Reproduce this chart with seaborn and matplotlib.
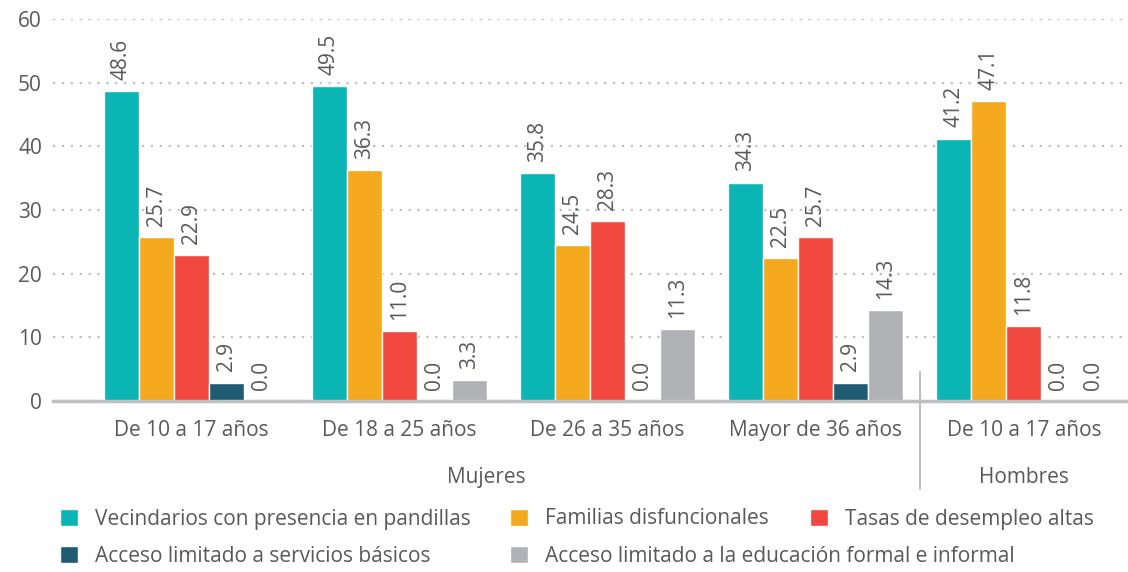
import numpy as np
import pandas as pd
import matplotlib
matplotlib.use('Agg')
import matplotlib.pyplot as plt
import matplotlib.transforms as mtransforms
import seaborn as sns

# data
groups = ['M 10-17', 'M 18-25', 'M 26-35', 'M 36+', 'H 10-17']
tick_labels = ['De 10 a 17 años', 'De 18 a 25 años', 'De 26 a 35 años',
               'Mayor de 36 años', 'De 10 a 17 años']
series = ['Vecindarios con presencia en pandillas',
          'Familias disfuncionales',
          'Tasas de desempleo altas',
          'Acceso limitado a servicios básicos',
          'Acceso limitado a la educación formal e informal']
vecindarios = [48.6, 49.5, 35.8, 34.3, 41.2]
familias = [25.7, 36.3, 24.5, 22.5, 47.1]
desempleo = [22.9, 11.0, 28.3, 25.7, 11.8]
servicios = [2.9, 0.0, 0.0, 2.9, 0.0]
educacion = [0.0, 3.3, 11.3, 14.3, 0.0]
colors = ['#0BB5B3', '#F4A81D', '#F0483E', '#1F5C74', '#B1B2B6']

rows = []
for name, vals in zip(series, [vecindarios, familias, desempleo, servicios, educacion]):
    for g, v in zip(groups, vals):
        rows.append({'grupo': g, 'serie': name, 'valor': v})
df = pd.DataFrame(rows)

sns.set_style('white')
plt.rcParams['font.family'] = ['Open Sans', 'DejaVu Sans']
txt = '#595959'
grid_c = '#BFBFBF'
fs = 15

fig = plt.figure(figsize=(11.28, 5.72), dpi=100)
ax = fig.add_axes([0.047, 0.299, 0.953, 0.668])

sns.barplot(data=df, x='grupo', y='valor', hue='serie', order=groups,
            hue_order=series, palette=colors, saturation=1, width=0.84,
            edgecolor='white', linewidth=1, ax=ax)
handles, labels = ax.get_legend_handles_labels()
ax.get_legend().remove()

for cont in ax.containers:
    ax.bar_label(cont, fmt='%.1f', rotation=90, padding=8, color=txt, fontsize=fs)

ax.set_xlim(-0.663, 4.5)
ax.set_ylim(0, 60)
ax.set_yticks(range(0, 61, 10))
ax.set_xticks(range(len(groups)))
ax.set_xticklabels(tick_labels)
ax.set_xlabel('')
ax.set_ylabel('')
ax.tick_params(axis='both', length=0, labelsize=fs, labelcolor=txt)
ax.tick_params(axis='y', pad=8)
ax.tick_params(axis='x', pad=14)

ax.yaxis.grid(True, linestyle=(0, (1, 3)), color=grid_c, linewidth=1.6)
ax.set_axisbelow(True)
for s in ['left', 'right', 'top']:
    ax.spines[s].set_visible(False)
ax.spines['bottom'].set_color(grid_c)
ax.spines['bottom'].set_linewidth(2.5)

# group separator and group names
trans = mtransforms.blended_transform_factory(ax.transData, ax.transAxes)
ax.plot([3.5, 3.5], [0.076, -0.230], color=grid_c, lw=1.5,
        transform=trans, clip_on=False)
xmin, xmax = ax.get_xlim()
ax.text((xmin + 3.5) / 2, -0.199, 'Mujeres', transform=trans,
        ha='center', va='center', fontsize=fs, color=txt)
ax.text((3.5 + xmax) / 2, -0.199, 'Hombres', transform=trans,
        ha='center', va='center', fontsize=fs, color=txt)

# legend laid out as in the reference (row-wise)
pos = [(60, 519), (510, 519), (810, 519), (60, 556), (510, 556)]
for h, l, (px, py) in zip(handles, labels, pos):
    fig.legend(handles=[h], labels=[l], loc='center left',
               bbox_to_anchor=(px / 1128, 1 - py / 572), frameon=False,
               fontsize=fs, labelcolor=txt, handlelength=0.85, handleheight=0.85,
               handletextpad=0.85, borderpad=0, borderaxespad=0)

fig.savefig('out.png', dpi=100)
